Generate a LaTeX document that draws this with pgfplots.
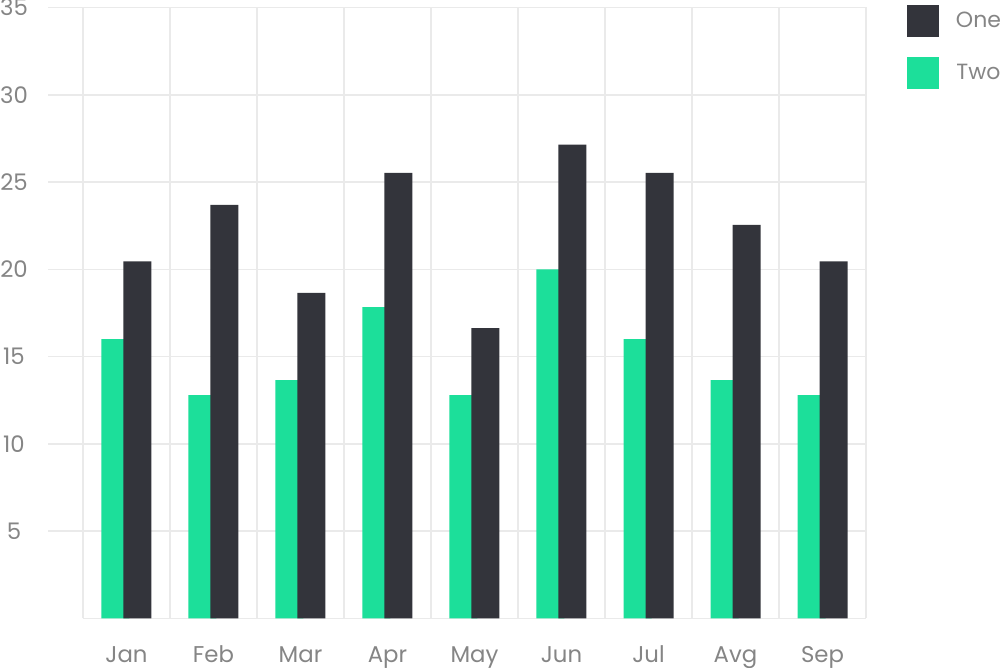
\documentclass[border=0pt]{standalone}
\usepackage{pgfplots}
\pgfplotsset{compat=1.18}
\usepackage{fontspec}
\setmainfont{Poppins}
\definecolor{barone}{HTML}{33343B}
\definecolor{bartwo}{HTML}{1CDF9A}
\definecolor{gridc}{HTML}{EAEAEA}
\definecolor{textgray}{HTML}{858585}
\begin{document}
\begin{tikzpicture}
\useasboundingbox (0,0) rectangle (500pt,334pt);
\begin{axis}[
  at={(24pt,24.75pt)}, anchor=south west,
  scale only axis, width=409pt, height=305.5pt,
  xmin=-0.902, xmax=8.5, ymin=0, ymax=35,
  ybar, bar width=14pt,
  axis line style={draw=none},
  major tick length=0pt, minor tick length=0pt,
  xtick={0,1,2,3,4,5,6,7,8},
  xticklabels={Jan,Feb,Mar,Apr,May,Jun,Jul,Avg,Sep},
  minor xtick={-0.5,0.5,1.5,2.5,3.5,4.5,5.5,6.5,7.5,8.5},
  ytick={5,10,15,20,25,30,35},
  ymajorgrids, xminorgrids,
  major grid style={gridc, line width=0.8pt},
  minor grid style={gridc, line width=0.8pt},
  /pgf/number format/assume math mode=true,
  tick label style={font=\fontsize{11.4}{13}\selectfont, text=textgray},
  yticklabel style={anchor=center, xshift=-17pt, inner sep=0pt},
  xticklabel style={anchor=base, yshift=-22.25pt, inner sep=0pt},
  legend style={at={(1.0501,1.0041)}, anchor=north west, draw=none, fill=none,
    inner sep=0pt, outer sep=0pt, row sep=10pt, column sep=0pt,
    nodes={inner sep=0pt, text=textgray, font=\fontsize{11}{13}\selectfont}},
  legend image code/.code={\fill[#1] (0pt,-8pt) rectangle (16pt,8pt); \path (24.5pt,0pt);},
  reverse legend,
]
\addplot[forget plot, gridc, line width=0.8pt, sharp plot] coordinates {(-0.5,0) (8.5,0)};
\addplot[fill=bartwo, draw=none, bar shift=-5.5pt] coordinates {
 (0,16.0) (1,12.8) (2,13.65) (3,17.83) (4,12.8) (5,20.0) (6,16.0) (7,13.65) (8,12.8)};
\addplot[fill=barone, draw=none, bar shift=5.5pt] coordinates {
 (0,20.46) (1,23.7) (2,18.65) (3,25.52) (4,16.63) (5,27.14) (6,25.52) (7,22.55) (8,20.46)};
\legend{Two,One}
\end{axis}
\end{tikzpicture}
\end{document}
